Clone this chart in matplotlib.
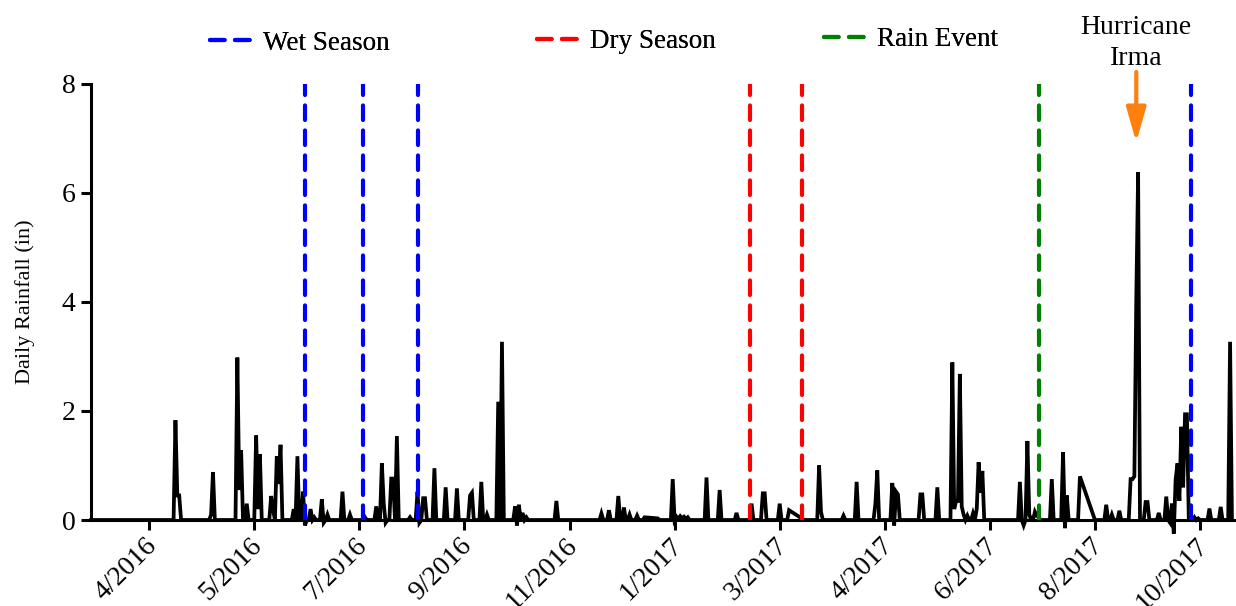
import numpy as np
import pandas as pd
import matplotlib
matplotlib.use('Agg')
import matplotlib.pyplot as plt
from matplotlib.ticker import FuncFormatter
from matplotlib.transforms import ScaledTranslation

plt.rcParams['font.family'] = ['Liberation Serif', 'DejaVu Serif']

# daily record: day index counted from 2016-03-01, rainfall in inches
start = pd.Timestamp('2016-03-01')
n_days = 609
rain_day = [45, 46, 47, 64, 65, 78, 79, 80, 83, 88, 89, 90, 96, 97, 99, 100, 101,
            108, 110, 113, 114, 117, 119, 123, 124, 126, 134, 138, 146, 152, 155,
            156, 157, 160, 161, 163, 170, 174, 175, 177, 178, 183, 189, 195, 202,
            203, 208, 211, 217, 219, 226, 227, 228, 230, 232, 248, 272, 276, 281,
            284, 287, 291, 295, 302, 310, 312, 313, 314, 315, 316, 317, 318, 328,
            335, 344, 352, 358, 359, 367, 372, 388, 389, 401, 408, 418, 419, 427,
            428, 429, 430, 442, 443, 451, 459, 460, 461, 462, 463, 464, 465, 467,
            470, 472, 473, 474, 475, 495, 497, 499, 500, 503, 504, 505, 512, 518,
            519, 520, 527, 541, 544, 548, 554, 555, 556, 557, 558, 562, 563, 569,
            573, 575, 576, 577, 578, 579, 580, 581, 582, 583, 584, 588, 590, 596,
            602, 607]
rain_in = [1.83, 0.45, 0.45, 0.1, 0.88, 2.98, 0.55, 1.28, 0.3, 1.55, 0.2, 1.21, 0.44, 0.2, 1.17, 0.66, 1.38,
           0.2, 1.17, 0.52, -0.1, 0.2, 0.05, 0.38, -0.05, 0.1, 0.52, 0.1, 0.05, 0.25, 1.04,
           0.3, -0.05, 0.76, 0.76, 1.54, 0.05, 0.52, -0.05, 0.4, 0.4, 0.95, 0.6, 0.58, 0.45,
           0.5, 0.7, 0.1, 2.17, 3.27, 0.25, -0.1, 0.28, 0.13, 0.05, 0.35, 0.12, 0.18, 0.44,
           0.23, 0.1, 0.08, 0.05, 0.03, 0.75, 0.06, 0.02, 0.07, 0.03, 0.06, 0.02, 0.05, 0.78,
           0.55, 0.13, 0.3, 0.49, 0.49, 0.3, 0.18, 1.0, 0.15, 0.08, 0.7, 0.3, 0.91, 0.68,
           -0.1, 0.52, 0.47, 0.47, 0.47, 0.6, 2.89, 0.2, 0.35, 0.35, 2.68, 0.25, 0.1, 0.08,
           0.12, 0.2, 1.06, 0.5, 0.9, 0.7, -0.1, 1.45, 0.1, 0.15, 0.08, 0.05, 0.75, 1.24,
           -0.15, 0.45, 0.8, 0.28, 0.1, 0.17, 0.75, 0.75, 0.8, 4.0, 6.38, 0.33, 0.33, 0.13,
           0.43, -0.05, 0.3, -0.25, 0.75, 1.04, 0.35, 1.71, 0.6, 1.94, 1.94, 0.05, 0.03, 0.21,
           0.24, 3.27]
# days with no record (line joins straight across)
missing_days = [(296, 301), (373, 379), (528, 534)]

wet_season = ['2016-06-23', '2016-07-24', '2016-08-22', '2017-10-08']
dry_season = ['2017-02-15', '2017-03-15']
rain_event = ['2017-07-19']
irma_date = '2017-09-09'

rain = np.zeros(n_days)
rain[rain_day] = rain_in
keep = np.ones(n_days, dtype=bool)
for a, b in missing_days:
    keep[a:b + 1] = False
dates = start + pd.to_timedelta(np.arange(n_days), unit='D')

fig = plt.figure(figsize=(12.36, 6.06), dpi=100)
ax = fig.add_axes([91.0 / 1236, 86 / 606, 1144.7 / 1236, 436 / 606])

ax.plot(dates[keep], rain[keep], color='black', lw=2.7, solid_joinstyle='miter', clip_on=False, zorder=2)

dash_kw = dict(lw=3, dashes=(3.5, 2.5), dash_capstyle='round', zorder=3)
for i, d in enumerate(wet_season):
    ax.axvline(pd.Timestamp(d), color='#0000FF', label='Wet Season' if i == 0 else None, **dash_kw)
for i, d in enumerate(dry_season):
    ax.axvline(pd.Timestamp(d), color='#FF0000', label='Dry Season' if i == 0 else None, **dash_kw)
for i, d in enumerate(rain_event):
    ax.axvline(pd.Timestamp(d), color='#008000', label='Rain Event' if i == 0 else None, **dash_kw)

ax.set_xlim(start, start + pd.Timedelta(days=610))
ax.set_ylim(0, 8)
ax.set_yticks([0, 2, 4, 6, 8])
ticks = pd.Timestamp('2016-04-01') + pd.to_timedelta(np.arange(11) * 56, unit='D')
ax.set_xticks(ticks)
ax.xaxis.set_major_formatter(FuncFormatter(
    lambda v, p: '{}/{}'.format(matplotlib.dates.num2date(v).month, matplotlib.dates.num2date(v).year)))

for s in ['top', 'right']:
    ax.spines[s].set_visible(False)
for s in ['left', 'bottom']:
    ax.spines[s].set_linewidth(2.2)
ax.tick_params(direction='out', length=7, width=2.2, labelsize=20)
ax.tick_params(axis='y', pad=4)
ax.tick_params(axis='x', pad=9)
shift = ScaledTranslation(4 / 100, 0, fig.dpi_scale_trans)
for lab in ax.get_xticklabels():
    lab.set_rotation(45)
    lab.set_ha('right')
    lab.set_va('center')
    lab.set_rotation_mode('anchor')
    lab.set_transform(lab.get_transform() + shift)
ax.set_ylabel('Daily Rainfall (in)', fontsize=16, labelpad=19)

# hurricane marker
ax.text(pd.Timestamp(irma_date), 8.75, 'Hurricane\nIrma', ha='center', va='center', fontsize=20, linespacing=1.35)
ax.annotate('', xy=(pd.Timestamp(irma_date), 6.93), xytext=(pd.Timestamp(irma_date), 8.22),
            arrowprops=dict(arrowstyle='-|>,head_length=1.05,head_width=0.3', mutation_scale=20,
                            color='#FF800E', lw=3, shrinkA=0, shrinkB=0),
            annotation_clip=False)

handles, labels = ax.get_legend_handles_labels()
legend_pos = [(210, 43), (537, 42), (824, 40)]
for h, l, (px, py) in zip(handles, labels, legend_pos):
    leg = fig.legend([h], [l], loc='center left', bbox_to_anchor=(px / 1236, 1 - py / 606),
                     frameon=False, fontsize=19.5, handlelength=1.6, handletextpad=0.35,
                     borderpad=0, borderaxespad=0)
    fig.add_artist(leg)

plt.savefig('out.png', dpi=100)
